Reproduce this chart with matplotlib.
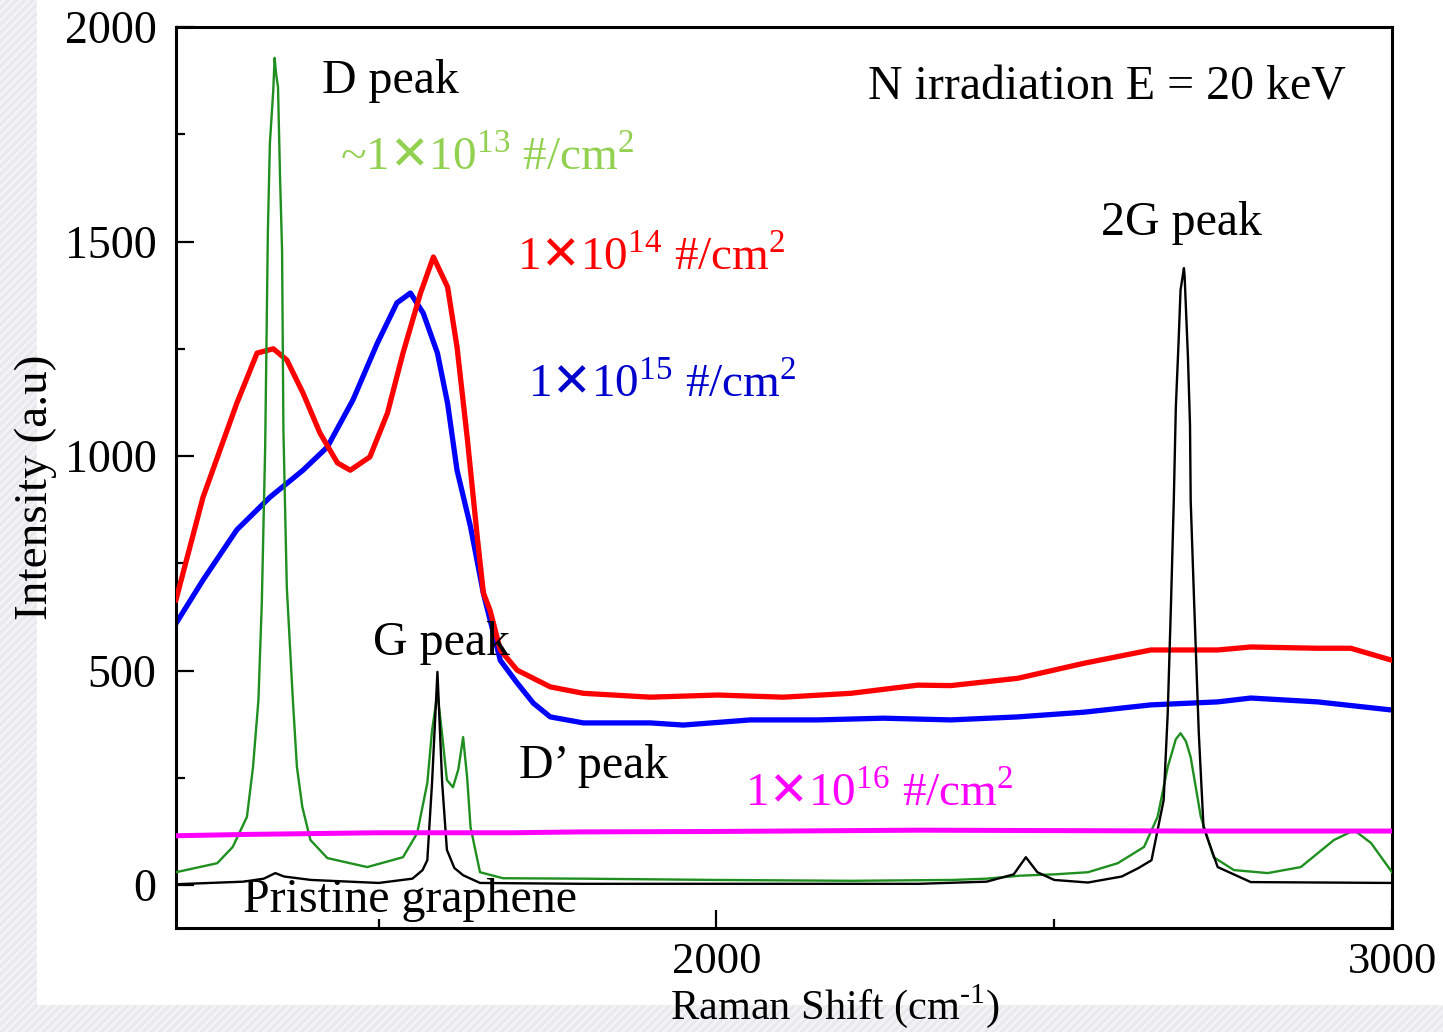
import matplotlib
matplotlib.use("Agg")
import matplotlib.pyplot as plt
from matplotlib.patches import Rectangle
from matplotlib.ticker import MultipleLocator

plt.rcParams['font.family'] = ['Liberation Serif', 'DejaVu Serif', 'DejaVu Sans']
plt.rcParams['mathtext.fontset'] = 'custom'
plt.rcParams['mathtext.rm'] = 'Liberation Serif'
plt.rcParams['mathtext.sf'] = 'DejaVu Sans'
plt.rcParams['hatch.linewidth'] = 2.0

# Raman spectra, N ion irradiation at 20 keV
pristine_x = [1200, 1300, 1330, 1347, 1360, 1400, 1500, 1550, 1565, 1572, 1579,
              1587, 1594, 1601, 1612, 1625, 1650, 1800, 2000, 2300, 2400, 2440,
              2458, 2475, 2500, 2550, 2600, 2625, 2644, 2662, 2668, 2673, 2677,
              2680, 2684, 2687, 2692, 2693, 2698, 2701, 2702, 2707, 2714, 2721,
              2742, 2791, 3000]
pristine_y = [2, 8, 15, 28, 20, 12, 5, 15, 35, 58, 238,
              497, 238, 82, 40, 23, 5, 3, 3, 3, 8, 25,
              65, 30, 12, 6, 20, 40, 58, 198, 400, 664, 897,
              1113, 1263, 1387, 1438, 1420, 1228, 1072, 897, 664, 354, 135,
              42, 7, 5]

f13_x = [1200, 1261, 1284, 1305, 1314, 1322, 1327, 1332, 1336, 1339, 1344,
         1346, 1348, 1351, 1354, 1357, 1359, 1364, 1373, 1379, 1387, 1399,
         1424, 1483, 1536, 1557, 1572, 1579, 1587, 1594, 1601, 1610, 1618,
         1625, 1631, 1636, 1650, 1684, 1800, 2000, 2200, 2350, 2400, 2450,
         2500, 2550, 2594, 2633, 2653, 2668, 2680, 2687, 2695, 2702, 2717,
         2736, 2766, 2816, 2865, 2914, 2944, 2969, 3000]
f13_y = [30, 51, 89, 159, 275, 431, 657, 1021, 1524, 1730, 1853,
         1928, 1893, 1860, 1650, 1480, 1061, 695, 431, 275, 182, 105,
         63, 42, 65, 121, 238, 360, 448, 350, 245, 228, 270,
         345, 250, 135, 30, 16, 15, 12, 10, 12, 15, 22,
         25, 30, 51, 89, 159, 275, 340, 354, 335, 298, 159,
         65, 35, 28, 42, 105, 128, 98, 30]

f14_x = [1200, 1240, 1290, 1320, 1344, 1364, 1388, 1413, 1439, 1458, 1487,
         1513, 1536, 1562, 1581, 1602, 1616, 1631, 1646, 1655, 1665, 1680,
         1705, 1754, 1803, 1902, 2002, 2099, 2199, 2298, 2347, 2446, 2544,
         2643, 2742, 2791, 2890, 2939, 3000]
f14_y = [665, 904, 1123, 1240, 1250, 1224, 1147, 1054, 984, 967, 998,
         1100, 1240, 1380, 1464, 1394, 1254, 1044, 811, 681, 640, 548,
         501, 462, 447, 438, 443, 438, 447, 466, 465, 482, 517,
         548, 548, 555, 552, 552, 524]

f15_x = [1200, 1240, 1290, 1339, 1388, 1424, 1462, 1498, 1527, 1547, 1566,
         1587, 1602, 1616, 1636, 1655, 1680, 1705, 1729, 1754, 1803, 1902,
         1951, 2050, 2150, 2247, 2347, 2446, 2544, 2643, 2742, 2791, 2890,
         3000]
f15_y = [610, 711, 828, 904, 967, 1021, 1131, 1263, 1357, 1380, 1333,
         1240, 1123, 967, 835, 680, 524, 471, 424, 392, 378, 378,
         373, 385, 385, 389, 385, 392, 403, 420, 427, 436, 427,
         408]

f16_x = [1200, 1300, 1400, 1500, 1600, 1700, 1800, 2000, 2200, 2300, 2500,
         2700, 2900, 3000]
f16_y = [115, 118, 120, 122, 122, 122, 124, 125, 127, 128, 127,
         126, 126, 126]

doses = ['~1', '1', '1', '1']
exponents = ['13', '14', '15', '16']

fig = plt.figure(figsize=(14.43, 10.32), dpi=100)

# light striped border along the left and bottom edges
for x0, y0, w, h in [(0, 0, 37 / 1443, 1), (0, 0, 1, 27 / 1032)]:
    fig.patches.append(Rectangle((x0, y0), w, h, transform=fig.transFigure,
                                 facecolor='#f3f3f5', edgecolor='#e9e9ed',
                                 hatch='////', lw=0, zorder=-10))

ax = fig.add_axes([176 / 1443, 1 - 928 / 1032, 1216 / 1443, 901 / 1032])
ax.set_zorder(1)
ax.patch.set_alpha(0)

ax.plot(f15_x, f15_y, color='#0000ff', lw=3.8, zorder=2)
ax.plot(f14_x, f14_y, color='#ff0000', lw=3.8, zorder=3)
ax.plot(f13_x, f13_y, color='#1f8f1f', lw=1.7, zorder=4)
ax.plot(pristine_x, pristine_y, color='black', lw=1.7, zorder=5)
ax.plot(f16_x, f16_y, color='#ff00ff', lw=3.6, zorder=6)

ax.set_xlim(1200, 3000)
ax.set_ylim(-100, 2000)
ax.xaxis.set_major_locator(MultipleLocator(1000))
ax.xaxis.set_minor_locator(MultipleLocator(500))
ax.yaxis.set_major_locator(MultipleLocator(500))
ax.yaxis.set_minor_locator(MultipleLocator(250))
ax.tick_params(which='both', direction='in', width=1.6, labelsize=33)
ax.tick_params(which='major', length=13)
ax.tick_params(which='minor', length=6.5)
ax.tick_params(axis='x', pad=10, labelsize=32)
ax.tick_params(axis='y', pad=14)
for s in ax.spines.values():
    s.set_linewidth(2.2)

xl = ax.set_xlabel('Raman Shift (cm$^{\\text{-1}}$)', fontsize=30.5)
xl.set_verticalalignment('bottom')
ax.xaxis.set_label_coords(835 / 1443, 1.5 / 1032, transform=fig.transFigure)
ax.set_ylabel('Intensity (a.u)', fontsize=34)
ax.yaxis.set_label_coords(-0.098, 0.489)

fs = 34.5
ax.text(1416, 1846, 'D peak', fontsize=fs)
ax.text(1492, 536, 'G peak', fontsize=fs)
ax.text(1707, 249, 'D\u2019 peak', fontsize=fs)
ax.text(2569, 1515, '2G peak', fontsize=fs)
ax.text(1299, -63, 'Pristine graphene', fontsize=fs)
ax.text(2225, 1830, 'N irradiation E = 20 keV', fontsize=fs)


def dose_label(pre, exp):
    return (pre + '$\\mathsf{\u2715}$10$^{\\mathregular{' + exp + '}}$'
            ' #/cm$^{\\mathregular{2}}$')


dose_fs = 34
dose_pos = [(1443, 1667), (1705, 1434), (1721, 1138), (2043, 184)]
dose_colors = ['#92d050', '#ff0000', '#0000cc', '#ff00ff']
for pre, exp, (x, y), c in zip(doses, exponents, dose_pos, dose_colors):
    ax.text(x, y, dose_label(pre, exp), fontsize=dose_fs, color=c)

fig.savefig('out.png', dpi=100)
